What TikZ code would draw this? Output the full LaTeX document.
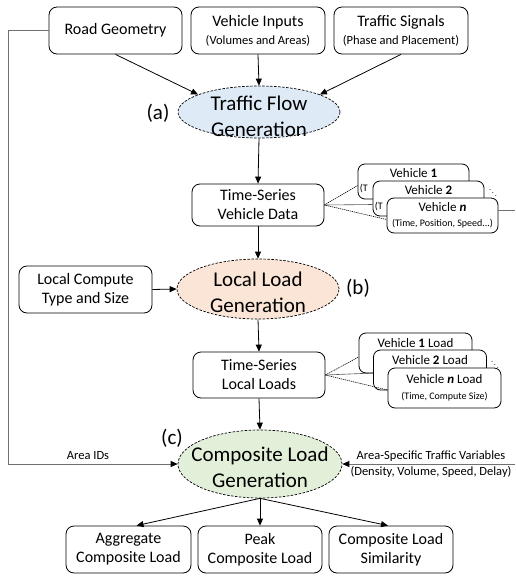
\documentclass[tikz,border=0pt]{standalone}
\usepackage{fontspec}
\setmainfont{Carlito}
\usetikzlibrary{arrows.meta,shapes.geometric,calc}
\definecolor{eblue}{HTML}{DEEBF7}
\definecolor{eorange}{HTML}{FBE5D6}
\definecolor{egreen}{HTML}{E2F0D9}
\definecolor{lgray}{HTML}{707070}
\begin{document}
\begin{tikzpicture}[x=1pt,y=-1pt,
  box/.style={draw, rounded corners=8pt, fill=white, align=center, inner sep=0pt, line width=0.8pt, font=\fontsize{16}{19}\selectfont},
  vbox/.style={draw, rounded corners=7pt, fill=white, align=center, inner sep=0pt, line width=0.8pt, font=\fontsize{13}{15}\selectfont, minimum width=111pt, minimum height=35pt},
  lbox/.style={draw, rounded corners=7pt, fill=white, align=center, inner sep=0pt, line width=0.8pt, font=\fontsize{13}{16}\selectfont, minimum width=113pt, minimum height=40pt},
  vt/.style={font=\fontsize{13}{15}\selectfont, inner sep=0pt},
  ell/.style={ellipse, draw, dash pattern=on 2.5pt off 1.5pt, line width=0.7pt, inner sep=0pt},
  etext/.style={align=center, font=\fontsize{21}{26}\selectfont, inner sep=0pt},
  lab/.style={font=\fontsize{21}{26}\selectfont, inner sep=0pt},
  sub/.style={font=\fontsize{12.5}{15}\selectfont},
  small/.style={font=\fontsize{10}{12}\selectfont, inner sep=0pt},
  arr/.style={-{Triangle[length=7pt,width=6pt,color=black]}, line width=0.8pt},
  dot/.style={line width=0.6pt, dash pattern=on 1.2pt off 0.8pt}
]
\useasboundingbox (0,0) rectangle (515,576);

% top inputs
\node[box, minimum width=133pt, minimum height=47pt] (rg) at (115.5,30.5) {Road Geometry};
\node[box, minimum width=134pt, minimum height=47pt] (vi) at (258,30.5) {Vehicle Inputs\\[-1pt]{\fontsize{12.5}{15}\selectfont (Volumes and Areas)}};
\node[box, minimum width=134pt, minimum height=47pt] (ts) at (401,30.5) {Traffic Signals\\[-1pt]{\fontsize{12.5}{15}\selectfont (Phase and Placement)}};

% (a)
\node[ell, fill=eblue, minimum width=162pt, minimum height=52pt] (ea) at (259,112) {};
\node[etext] (eat) at (259,116) {Traffic Flow\\Generation};
\node[lab] (la) at (158,113) {(a)};

\draw[arr] (rg.south) -- (ea.164);
\draw[arr] (vi.south) -- (ea.north);
\draw[arr] (ts.south) -- (ea.16);

% time series vehicle data
\node[box, minimum width=132pt, minimum height=42pt] (tsv) at (258,205) {Time-Series\\Vehicle Data};
\draw[arr] (ea.south) -- (tsv.north);

\node[vbox] (v1) at (413.5,181.5) {};
\node[vt] (v1a) at ($(v1.north)+(0,9)$) {Vehicle \textbf{1}};
\node[small, anchor=west] (v1b) at ($(v1.west)+(2,7)$) {(T};
\node[vbox] (v2) at (428.5,198.5) {};
\node[vt] (v2a) at ($(v2.north)+(0,9)$) {Vehicle \textbf{2}};
\node[small, anchor=west] (v2b) at ($(v2.west)+(2,8)$) {(T};
\node[vbox] (vn) at (442.5,215.5) {Vehicle \textbf{\textit{n}}\\{\fontsize{10}{12}\selectfont (Time, Position, Speed...)}};
\node[font=\fontsize{8}{8}\selectfont, inner sep=0pt] (vd) at (493,190) {$\ddots$};
\draw[dot] (tsv.east) -- ($(v1.west)+(0,4)$);
\draw[dot] (tsv.east) -- ($(v2.west)+(0,6)$);
\draw[dot] (tsv.east) -- ($(vn.west)+(0,4)$);
\coordinate (rs) at (515,210);
\draw[lgray, line width=0.8pt] (rs -| vn.east) -- (rs);

% (b)
\node[ell, fill=eorange, minimum width=162pt, minimum height=60pt] (eb) at (258,289) {};
\node[etext] (ebt) at (258,292) {Local Load\\Generation};
\node[lab] (lb) at (358,288) {(b)};
\draw[arr] (tsv.south) -- (eb.north);

\node[box, minimum width=133pt, minimum height=47pt] (lc) at (85.5,289.5) {Local Compute\\Type and Size};
\draw[arr] (lc.east) -- (eb.west);

% time series local loads
\node[box, minimum width=132pt, minimum height=46pt] (tsl) at (259,375) {Time-Series\\Local Loads};
\draw[arr] (eb.south) -- (tsl.north);

\node[lbox] (l1) at (415.5,353) {};
\node[vt] (l1a) at ($(l1.north)+(0,10)$) {Vehicle \textbf{1} Load};
\node[lbox] (l2) at (430,370) {};
\node[vt] (l2a) at ($(l2.north)+(0,10.5)$) {Vehicle \textbf{2} Load};
\node[lbox] (ln) at (444.5,388) {Vehicle \textbf{\textit{n}} Load\\{\fontsize{10}{12}\selectfont (Time, Compute Size)}};
\node[font=\fontsize{8}{8}\selectfont, inner sep=0pt] (ld) at (495,362) {$\ddots$};
\draw[dot] (tsl.east) -- ($(l1.west)+(0,4)$);
\draw[dot] (tsl.east) -- ($(l2.west)+(0,3)$);
\draw[dot] (tsl.east) -- ($(ln.west)+(0,2)$);

% (c)
\node[ell, fill=egreen, minimum width=164pt, minimum height=68pt] (ec) at (260,464) {};
\node[etext] (ect) at (260,467) {Composite Load\\Generation};
\node[lab] (lcc) at (172,438) {(c)};
\draw[arr] (tsl.south) -- (ec.north);

% left feedback line
\coordinate (lk) at (8,464);
\draw[arr, lgray] (rg.west) -- (rg.west -| lk) -- (lk) -- (ec.west);
\node[sub, inner sep=0pt] (aid) at (88,456) {Area IDs};

% right input
\coordinate (rk) at (515,464);
\draw[arr, lgray] (rk) -- (ec.east);
\node[sub, inner sep=0pt] (asv1) at (431,456.5) {Area-Specific Traffic Variables};
\node[sub, inner sep=0pt] (asv2) at (431,472) {(Density, Volume, Speed, Delay)};

% outputs
\node[box, minimum width=125pt, minimum height=47pt] (agg) at (128.5,549.5) {Aggregate\\Composite Load};
\node[box, minimum width=124pt, minimum height=47pt] (pk) at (260,549.5) {Peak\\Composite Load};
\node[box, minimum width=124pt, minimum height=47pt] (sim) at (391,549.5) {Composite Load\\Similarity};
\draw[arr] (ec.south) -- ($(agg.north)+(8,0)$);
\draw[arr] (ec.south) -- (pk.north);
\draw[arr] (ec.south) -- ($(sim.north)+(-3,0)$);
\end{tikzpicture}
\end{document}
